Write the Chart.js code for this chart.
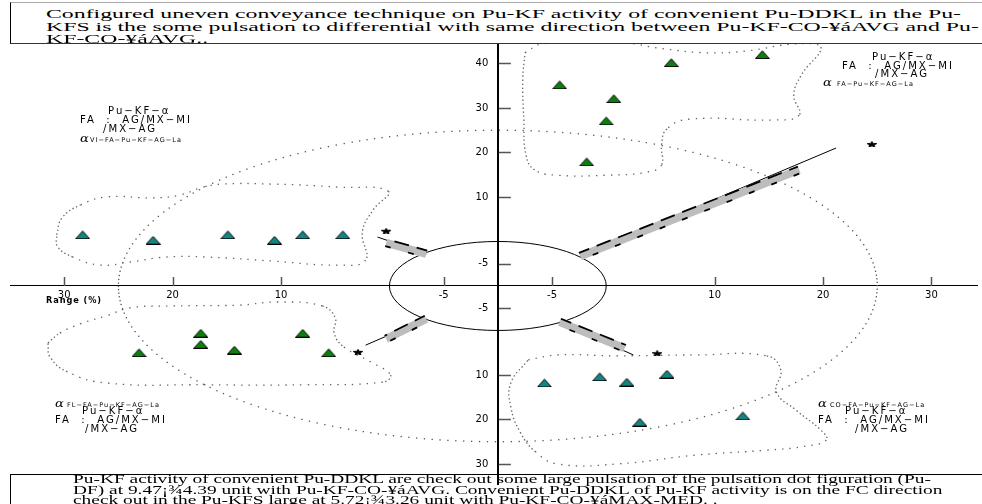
<!DOCTYPE html>
<html lang="en">
<head>
<meta charset="UTF-8" />
<meta name="viewport" content="width=device-width, initial-scale=1.0" />
<title>Pu-KF activity</title>
<style>
  html, body { margin: 0; padding: 0; background: #fff; }
  #wrap { position: relative; width: 982px; height: 504px; overflow: hidden; }
  #chart { position: absolute; left: 0; top: 0; }
  .box { position: absolute; left: 10px; width: 990px; font-family: "Liberation Serif", "Times New Roman", serif; color: #000; }
  #head { top: 2px; height: 40px; border-left: 1px solid #000; border-top: 1px solid #aaa; border-bottom: 1px solid #333; background: #fff; font-size: 13px; }
  #foot { top: 474px; height: 40px; border-left: 1px solid #000; border-top: 1px solid #000; font-size: 11.5px; }
  .ln { position: absolute; white-space: nowrap; transform-origin: 0 50%; line-height: 1; }
</style>
</head>
<body>
<div id="wrap">
  <canvas id="chart" width="982" height="504"></canvas>
  <div class="box" id="head">
    <div class="ln" style="left:35px;top:4px">Configured uneven conveyance technique on Pu-KF activity of convenient Pu-DDKL in the Pu-</div>
    <div class="ln" style="left:35px;top:17px">KFS is the some pulsation to differential with same direction between Pu-KF-CO-¥áAVG and Pu-</div>
    <div class="ln" style="left:35px;top:29px">KF-CO-¥áAVG..</div>
  </div>
  <div class="box" id="foot">
    <div class="ln" style="left:62px;top:-1px">Pu-KF activity of convenient Pu-DDKL are check out some large pulsation of the pulsation dot figuration (Pu-</div>
    <div class="ln" style="left:62px;top:9.5px">DF) at 9.47¡¾4.39 unit with Pu-KF-CO-¥áAVG. Convenient Pu-DDKL of Pu-KF activity is on the FC direction</div>
    <div class="ln" style="left:62px;top:19.5px">check out in the Pu-KFS large at 5.72¡¾3.26 unit with Pu-KF-CO-¥áMAX-MED. .</div>
  </div>
</div>

<script src="https://cdn.jsdelivr.net/npm/chart.js@4.4.0/dist/chart.umd.min.js"></script>
<script>
  // axis: value shown = |plotted| - GAP (inner ring is the gap)
  const GAP = 10;
  const OUTER_R = 35;
  const xTicks = [-40, -30, -20, -5, 5, 20, 30, 40];
  const yTicks = [50, 40, 30, 20, 5, -5, -20, -30, -40];

  const greenUpperX = [5.7, 16.0, 24.4, 10.7, 10.0, 8.2];
  const greenUpperY = [45.2, 50.2, 52.0, 42.1, 37.1, 27.9];
  const tealLeftX = [-38.3, -31.8, -24.9, -20.6, -18.0, -14.3];
  const tealLeftY = [11.5, 10.3, 11.5, 10.3, 11.5, 11.5];
  const greenLowerX = [-27.4, -27.4, -33.1, -24.3, -18.0, -15.6];
  const greenLowerY = [-10.6, -13.1, -15.0, -14.4, -10.6, -15.0];
  const tealLowerX = [4.3, 9.4, 11.9, 15.6, 13.1, 22.6];
  const tealLowerY = [-21.8, -20.4, -21.6, -19.8, -30.6, -29.2];

  const starX = [34.5, -10.3, -12.9, 14.7];
  const starY = [31.9, 12.4, -14.8, -15.1];

  const rayStart = [[7.6, 6.7], [-6.6, 7.2], [-6.6, -7.4], [5.7, -8.1]];
  const rayBarEnd = [[27.8, 26.1], [-10.3, 9.7], [-10.3, -11.9], [11.7, -14.0]];
  const rayTip = [[31.2, 31.0], [-11.1, 11.0], [-12.2, -13.3], [12.5, -15.5]];

  const hullUpperRight = [[2.5, 52.4], [4.1, 54.4], [11.0, 54.8], [15.3, 53.3], [19.3, 52.4], [22.9, 52.8], [27.5, 54.4], [29.8, 53.7],
    [28.0, 47.4], [27.3, 42.9], [27.8, 38.4], [25.4, 37.3], [17.7, 37.5], [15.6, 35.3], [15.1, 31.7], [15.1, 27.2], [13.8, 25.6],
    [10.1, 24.9], [5.5, 24.9], [3.4, 26.1], [2.6, 29.4], [2.4, 37.3], [2.3, 46.3]];
  const hullUpperLeft = [[-40.7, 11.5], [-40.2, 15.3], [-38.5, 18.2], [-36.1, 20.0], [-31.8, 19.8], [-29.4, 20.4], [-27.2, 22.2],
    [-25.4, 22.9], [-20.8, 22.9], [-14.7, 22.2], [-10.1, 21.3], [-11.5, 17.1], [-12.5, 12.1], [-12.2, 5.8], [-14.7, 4.7],
    [-20.8, 5.6], [-26.9, 6.5], [-30.6, 6.5], [-33.9, 5.4], [-36.7, 4.7], [-39.2, 6.5], [-40.6, 8.8]];
  const hullLowerLeft = [[-41.5, -12.8], [-40.4, -10.6], [-38.5, -8.5], [-36.1, -6.7], [-33.9, -4.9], [-30.0, -4.5], [-23.9, -4.3],
    [-20.2, -3.6], [-16.2, -4.5], [-15.0, -7.2], [-15.1, -10.6], [-14.2, -13.7], [-11.7, -17.1], [-9.9, -20.0], [-10.6, -21.6],
    [-17.7, -22.2], [-26.9, -22.2], [-36.1, -21.8], [-39.7, -19.3], [-41.3, -16.0]];
  const hullLowerRight = [[2.8, -16.6], [5.5, -15.5], [11.0, -15.7], [18.3, -15.5], [24.8, -15.7], [26.1, -18.9], [25.7, -23.8],
    [27.5, -27.9], [29.8, -32.4], [30.3, -34.6], [28.4, -36.0], [24.8, -36.9], [18.3, -38.0], [11.0, -40.0], [5.5, -40.0],
    [3.5, -37.3], [2.1, -33.0], [1.2, -27.2], [1.2, -21.8]];

  const noteLines = ['Pu−KF−α', 'FA  :  AG/MX−MI', '/MX−AG'];
  const noteSubs = ['VI−FA−Pu−KF−AG−La', 'FA−Pu−KF−AG−La', 'FL−FA−Pu−KF−AG−La', 'CO−FA−Pu−KF−AG−La'];
  const noteLayout = [
    { lines: [[108, 111], [80, 120], [103, 129]], alpha: [80, 139], sub: [90, 140] },
    { lines: [[872, 57], [842, 66], [875, 74]], alpha: [823, 83], sub: [837, 84] },
    { lines: [[82, 411], [55, 420], [85, 429]], alpha: [55, 404], sub: [67, 405] },
    { lines: [[845, 411], [818, 420], [855, 429]], alpha: [818, 404], sub: [830, 405] }
  ];

  function fitLines(id, target) {
    const lines = document.querySelectorAll('#' + id + ' .ln');
    const k = target / lines[0].getBoundingClientRect().width;
    lines.forEach(l => { l.style.transform = 'scaleX(' + k + ')'; });
  }
  fitLines('head', 915);
  fitLines('foot', 858);

  function marker(w, h, fill, star) {
    const c = document.createElement('canvas');
    c.width = w; c.height = h;
    const g = c.getContext('2d');
    g.beginPath();
    if (star) {
      for (let i = 0; i < 10; i++) {
        const a = -Math.PI / 2 + i * Math.PI / 5, r = i % 2 ? 0.45 : 1;
        g.lineTo(w / 2 + Math.cos(a) * r * w / 2, h / 2 + 0.5 + Math.sin(a) * r * h / 2);
      }
    } else {
      g.moveTo(0.5, h - 0.5); g.lineTo(w / 2, 0.8); g.lineTo(w - 0.5, h - 0.5);
    }
    g.closePath();
    g.fillStyle = fill; g.fill();
    g.strokeStyle = '#000'; g.lineWidth = 1; g.stroke();
    return c;
  }
  const triGreen = marker(15, 9, '#0b800b');
  const triTeal = marker(15, 9, '#148585');
  const starMark = marker(10, 6, '#000', true);

  const pts = (xs, ys) => xs.map((v, i) => ({ x: v, y: ys[i] }));
  const loop = h => h.concat([h[0]]).map(p => ({ x: p[0], y: p[1] }));
  const seg = (a, b) => [{ x: a[0], y: a[1] }, { x: b[0], y: b[1] }];

  const datasets = [
    { data: pts(greenUpperX, greenUpperY), pointStyle: triGreen },
    { data: pts(tealLeftX, tealLeftY), pointStyle: triTeal },
    { data: pts(greenLowerX, greenLowerY), pointStyle: triGreen },
    { data: pts(tealLowerX, tealLowerY), pointStyle: triTeal },
    { data: pts(starX, starY), pointStyle: starMark }
  ];
  rayStart.forEach((s, i) => {
    datasets.push({ data: seg(s, rayBarEnd[i]), showLine: true, borderColor: '#bdbdbd', borderWidth: 8, borderCapStyle: 'butt', pointRadius: 0 });
  });
  rayStart.forEach((s, i) => {
    datasets.push({ data: seg(s, rayTip[i]), showLine: true, borderColor: '#000', borderWidth: 1, pointRadius: 0 });
  });
  [hullUpperRight, hullUpperLeft, hullLowerLeft, hullLowerRight].forEach(h => {
    datasets.push({
      data: loop(h), showLine: true, tension: 0.45, borderColor: '#666', borderWidth: 1.3, pointRadius: 0,
      segment: {
        borderDash: c => Math.abs(c.p1.x - c.p0.x) > 1.5 * Math.abs(c.p1.y - c.p0.y) ? [1.4, 6] : [1.4, 2.6]
      }
    });
  });

  function dottedEllipse(ctx, cx, cy, rx, ry) {
    ctx.save();
    ctx.fillStyle = '#555';
    let acc = 0, px = cx + rx, py = cy;
    const n = 3000;
    for (let i = 1; i <= n; i++) {
      const t = i / n * Math.PI * 2;
      const nx = cx + rx * Math.cos(t), ny = cy + ry * Math.sin(t);
      const dx = nx - px, dy = ny - py, d = Math.hypot(dx, dy);
      acc += d;
      if (acc >= 3 + 4.5 * Math.abs(dx) / (d || 1)) {
        ctx.fillRect(nx - 0.65, ny - 0.65, 1.3, 1.3);
        acc = 0;
      }
      px = nx; py = ny;
    }
    ctx.restore();
  }

  function drawText(ctx, str, x, y, k, font) {
    ctx.save();
    ctx.font = font;
    ctx.translate(x, y);
    ctx.scale(k, 1);
    ctx.fillText(str, 0, 0);
    ctx.restore();
  }

  const decor = {
    id: 'decor',
    beforeDatasetsDraw(chart) {
      const { ctx, scales: { x, y } } = chart;
      const cx = x.getPixelForValue(0), cy = y.getPixelForValue(0);
      dottedEllipse(ctx, cx, cy, x.getPixelForValue(OUTER_R) - cx, cy - y.getPixelForValue(OUTER_R));
      ctx.save();
      ctx.strokeStyle = '#000';
      ctx.lineWidth = 1;
      ctx.beginPath();
      ctx.ellipse(cx, cy, x.getPixelForValue(GAP) - cx, cy - y.getPixelForValue(GAP), 0, 0, Math.PI * 2);
      ctx.stroke();
      ctx.restore();
    },
    afterDatasetsDraw(chart) {
      const { ctx, scales: { x, y } } = chart;
      const cx = x.getPixelForValue(0), cy = y.getPixelForValue(0);

      // dashed edges of the ray bars
      ctx.save();
      ctx.strokeStyle = '#000';
      ctx.lineWidth = 1.8;
      rayStart.forEach((s, i) => {
        const e = rayBarEnd[i];
        const x0 = x.getPixelForValue(s[0]), y0 = y.getPixelForValue(s[1]);
        const x1 = x.getPixelForValue(e[0]), y1 = y.getPixelForValue(e[1]);
        const len = Math.hypot(x1 - x0, y1 - y0);
        let nx = -(y1 - y0) / len, ny = (x1 - x0) / len;
        if (ny > 0) { nx = -nx; ny = -ny; }
        [[3.5, [15, 8], 4], [-3.5, [6, 18], 12]].forEach(([o, dash, off]) => {
          ctx.setLineDash(dash);
          ctx.lineDashOffset = off;
          ctx.beginPath();
          ctx.moveTo(x0 + nx * o, y0 + ny * o);
          ctx.lineTo(x1 + nx * o, y1 + ny * o);
          ctx.stroke();
        });
      });
      ctx.restore();

      // tick marks
      ctx.save();
      ctx.strokeStyle = '#555';
      ctx.lineWidth = 1.5;
      ctx.beginPath();
      yTicks.forEach(v => {
        const py = Math.round(y.getPixelForValue(v)) + 0.5;
        ctx.moveTo(cx + 1, py); ctx.lineTo(cx + 13, py);
      });
      xTicks.forEach(v => {
        const px = Math.round(x.getPixelForValue(v)) + 0.5;
        ctx.moveTo(px, cy); ctx.lineTo(px, cy - 9);
      });
      ctx.stroke();
      ctx.restore();

      // corner notes
      ctx.save();
      ctx.fillStyle = '#000';
      ctx.textBaseline = 'middle';
      ctx.letterSpacing = '2px';
      ctx.font = '10px "DejaVu Sans"';
      const k = 112 / ctx.measureText(noteLines[1]).width;
      noteLayout.forEach((b, i) => {
        b.lines.forEach((p, j) => drawText(ctx, noteLines[j], p[0], p[1], k, '10px "DejaVu Sans"'));
        drawText(ctx, 'α', b.alpha[0], b.alpha[1], 1.2, 'italic 11px "DejaVu Serif"');
        ctx.letterSpacing = '1px';
        drawText(ctx, noteSubs[i], b.sub[0], b.sub[1], k, '6.5px "DejaVu Sans"');
        ctx.letterSpacing = '2px';
      });
      ctx.letterSpacing = '1px';
      ctx.font = 'bold 9px "DejaVu Sans"';
      const kr = 56 / ctx.measureText('Range (%)').width;
      drawText(ctx, 'Range (%)', 46, 301, kr, 'bold 9px "DejaVu Sans"');
      ctx.restore();
    }
  };

  const tickFont = { family: 'DejaVu Sans', size: 10 };
  const label = v => String(Math.abs(v) - GAP);

  new Chart(document.getElementById('chart'), {
    type: 'scatter',
    data: { datasets },
    options: {
      responsive: false,
      animation: false,
      devicePixelRatio: 1,
      layout: { padding: { left: 10, right: 0, top: 43, bottom: 20 } },
      plugins: { legend: { display: false }, tooltip: { enabled: false } },
      scales: {
        x: {
          type: 'linear', min: -45, max: 44.2, position: { y: 0 },
          afterBuildTicks: s => { s.ticks = xTicks.map(v => ({ value: v })); },
          grid: { display: true, drawOnChartArea: false, drawTicks: false },
          border: { display: true, color: '#000', width: 1, dash: [10, 5] },
          ticks: { callback: label, font: tickFont, color: '#000', padding: 3, maxRotation: 0, autoSkip: false }
        },
        y: {
          type: 'linear', min: -44.5, max: 54.6, position: { x: 0 },
          afterBuildTicks: s => { s.ticks = yTicks.map(v => ({ value: v })); },
          grid: { display: true, drawOnChartArea: false, drawTicks: false },
          border: { display: true, color: '#000', width: 2, dash: [7, 2] },
          ticks: { callback: v => label(v) + '   ', font: tickFont, color: '#000', padding: 8, autoSkip: false }
        }
      }
    },
    plugins: [decor]
  });
</script>
</body>
</html>
